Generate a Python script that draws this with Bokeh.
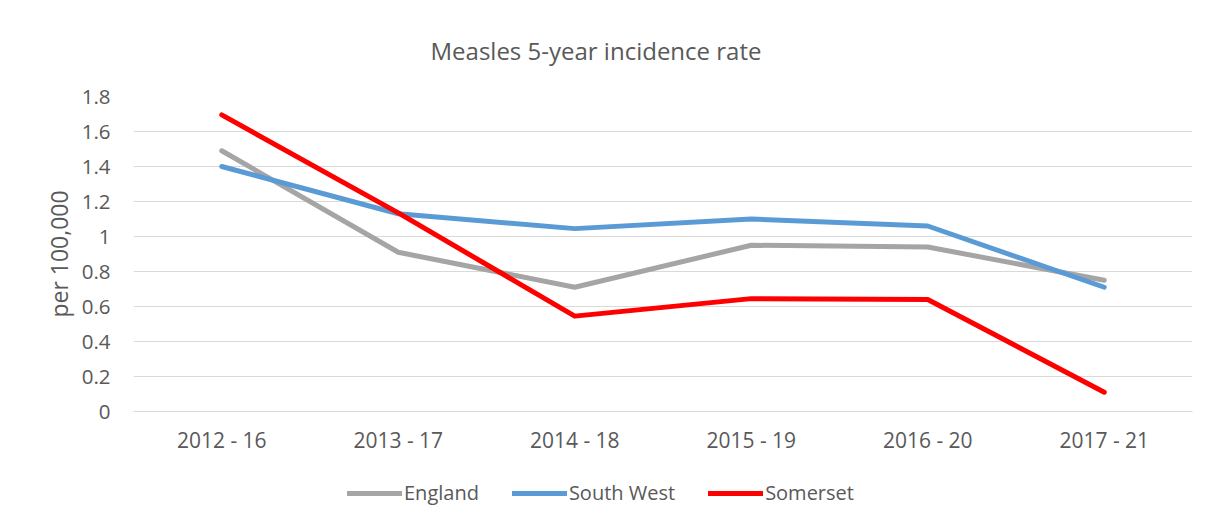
from bokeh.plotting import figure
from bokeh.layouts import column
from bokeh.models import FixedTicker, Legend, LegendItem, CustomJSTickFormatter
from bokeh.embed import file_html
from bokeh.resources import INLINE

categories = ["2012 - 16", "2013 - 17", "2014 - 18", "2015 - 19", "2016 - 20", "2017 - 21"]
england = [1.49, 0.91, 0.71, 0.95, 0.94, 0.75]
south_west = [1.40, 1.13, 1.045, 1.10, 1.06, 0.71]
somerset = [1.695, 1.135, 0.545, 0.645, 0.64, 0.11]
y_ticks = [0, 0.2, 0.4, 0.6, 0.8, 1.0, 1.2, 1.4, 1.6, 1.8]

FONT = "Open Sans"
TXT = "#595959"

series = [("England", england, "#A5A5A5"),
          ("South West", south_west, "#5B9BD5"),
          ("Somerset", somerset, "#FF0000")]

p = figure(x_range=categories, y_range=(0, 1.8), width=1209, height=470,
           output_backend="svg", toolbar_location=None,
           min_border_left=133, min_border_right=17, min_border_top=96, min_border_bottom=59)

p.title.text = "Measles 5-year incidence rate"
p.title.align = "left"
p.title.text_font = FONT
p.title.text_font_size = "24px"
p.title.text_font_style = "normal"
p.title.text_color = TXT
p.title.offset = 297
p.title.standoff = 60

p.outline_line_color = None
p.xgrid.grid_line_color = None
p.ygrid.grid_line_color = "#D9D9D9"
p.ygrid.grid_line_width = 1

p.yaxis.ticker = FixedTicker(ticks=y_ticks)
p.yaxis.formatter = CustomJSTickFormatter(code="return (Math.round(tick*10)/10).toString();")
p.yaxis.axis_line_color = None
p.yaxis.major_tick_line_color = None
p.yaxis.minor_tick_line_color = None
p.yaxis.major_label_text_font = FONT
p.yaxis.major_label_text_font_size = "20.5px"
p.yaxis.major_label_text_color = TXT
p.yaxis.major_label_standoff = 17
p.yaxis.axis_label = "per 100,000"
p.yaxis.axis_label_text_font = FONT
p.yaxis.axis_label_text_font_size = "23px"
p.yaxis.axis_label_text_font_style = "normal"
p.yaxis.axis_label_text_color = TXT
p.yaxis.axis_label_standoff = 4

p.xaxis.axis_line_color = "#D9D9D9"
p.xaxis.major_tick_line_color = None
p.xaxis.minor_tick_line_color = None
p.xaxis.major_label_text_font = FONT
p.xaxis.major_label_text_font_size = "21px"
p.xaxis.major_label_text_color = TXT
p.xaxis.major_label_standoff = 8

for name, vals, col in series:
    p.line(categories, vals, line_color=col, line_width=5, line_cap="round", line_join="round")

# legend strip below the chart (its lines lie outside its visible range)
lg = figure(x_range=categories, y_range=(10, 11), width=1209, height=49,
            output_backend="svg", toolbar_location=None,
            x_axis_type=None, y_axis_type=None,
            min_border_left=0, min_border_right=0, min_border_top=0, min_border_bottom=0)
lg.outline_line_color = None
lg.grid.grid_line_color = None
items = []
for name, vals, col in series:
    r = lg.line(categories, vals, line_color=col, line_width=5, line_cap="round")
    items.append(LegendItem(label=name, renderers=[r]))
legend = Legend(items=items, orientation="horizontal", location=(214, 13),
                glyph_width=55, glyph_height=20, spacing=33, label_standoff=2,
                label_text_font=FONT, label_text_font_size="20px", label_text_color=TXT,
                border_line_color=None, background_fill_alpha=0, margin=0, padding=6)
lg.add_layout(legend, "center")

layout = column(p, lg, spacing=0)
open("out.html", "w").write(file_html(layout, INLINE))
